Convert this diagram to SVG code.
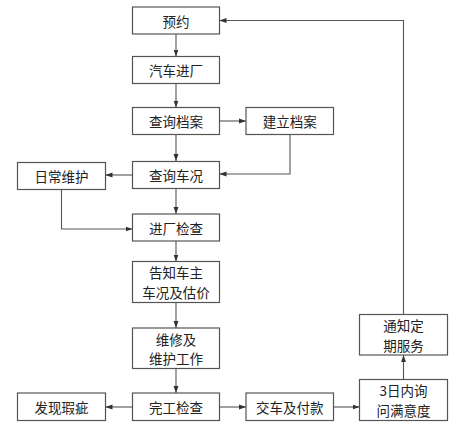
<svg xmlns="http://www.w3.org/2000/svg" width="461" height="433" viewBox="0 0 461 433">
<defs>
<style>
.box{fill:#fff;stroke:#555;stroke-width:1.2}
.t{font-family:"Noto Sans CJK SC","Liberation Serif",sans-serif;font-size:13.5px;fill:#222;text-anchor:middle;dominant-baseline:central}
.c{fill:none;stroke:#555;stroke-width:1.1}
</style>
<marker id="a" viewBox="0 0 10 10" refX="10" refY="5" markerWidth="7" markerHeight="7" markerUnits="userSpaceOnUse" orient="auto"><path d="M0,1.5 L10,5 L0,8.5 Z" fill="#333"/></marker>
</defs>
<rect width="461" height="433" fill="#fff"/>
<g id="connectors">
<path class="c" d="M176,34 V56.5" marker-end="url(#a)"/>
<path class="c" d="M176,83.5 V107.5" marker-end="url(#a)"/>
<path class="c" d="M219.5,121 H246" marker-end="url(#a)"/>
<path class="c" d="M176,134.5 V161" marker-end="url(#a)"/>
<path class="c" d="M290,134.5 V174 H219.5" marker-end="url(#a)"/>
<path class="c" d="M132.5,175 H105.5" marker-end="url(#a)"/>
<path class="c" d="M176,188.5 V214" marker-end="url(#a)"/>
<path class="c" d="M61.5,189.5 V229 H132.5" marker-end="url(#a)"/>
<path class="c" d="M176,241 V261.5" marker-end="url(#a)"/>
<path class="c" d="M176,302.5 V328" marker-end="url(#a)"/>
<path class="c" d="M176,368.5 V393" marker-end="url(#a)"/>
<path class="c" d="M132.5,407 H105.5" marker-end="url(#a)"/>
<path class="c" d="M219.5,407 H246" marker-end="url(#a)"/>
<path class="c" d="M333.5,407 H359.5" marker-end="url(#a)"/>
<path class="c" d="M403.5,379.5 V355" marker-end="url(#a)"/>
<path class="c" d="M403.5,314.5 V20.5 H219.5" marker-end="url(#a)"/>
</g>
<g id="n1"><rect class="box" x="132.5" y="7" width="87" height="27"/><text class="t" x="176" y="20.5">预约</text></g>
<g id="n2"><rect class="box" x="132.5" y="56.5" width="87" height="27"/><text class="t" x="176" y="70">汽车进厂</text></g>
<g id="n3"><rect class="box" x="132.5" y="107.5" width="87" height="27"/><text class="t" x="176" y="121">查询档案</text></g>
<g id="n4"><rect class="box" x="246" y="107.5" width="87.5" height="27"/><text class="t" x="289.7" y="121">建立档案</text></g>
<g id="n5"><rect class="box" x="132.5" y="161.5" width="87" height="27"/><text class="t" x="176" y="175">查询车况</text></g>
<g id="n6"><rect class="box" x="17.5" y="162.5" width="88" height="27"/><text class="t" x="61.5" y="176">日常维护</text></g>
<g id="n7"><rect class="box" x="132.5" y="214" width="87" height="27"/><text class="t" x="176" y="227.5">进厂检查</text></g>
<g id="n8"><rect class="box" x="132.5" y="261.5" width="87" height="41"/><text class="t"><tspan x="176" y="272.2">告知车主</tspan><tspan x="176" y="291.8">车况及估价</tspan></text></g>
<g id="n9"><rect class="box" x="132.5" y="328" width="87" height="40.5"/><text class="t"><tspan x="176" y="338.5">维修及</tspan><tspan x="176" y="358.1">维护工作</tspan></text></g>
<g id="n10"><rect class="box" x="132.5" y="393" width="87" height="27.5"/><text class="t" x="176" y="406.5">完工检查</text></g>
<g id="n11"><rect class="box" x="17.5" y="393" width="88" height="27.5"/><text class="t" x="61.5" y="406.5">发现瑕疵</text></g>
<g id="n12"><rect class="box" x="246" y="393" width="87.5" height="27.5"/><text class="t" x="289.7" y="406.5">交车及付款</text></g>
<g id="n13"><rect class="box" x="359.5" y="379.5" width="88" height="41"/><text class="t"><tspan x="403.5" y="390.2">3日内询</tspan><tspan x="403.5" y="409.8">问满意度</tspan></text></g>
<g id="n14"><rect class="box" x="359.5" y="314.5" width="88" height="40.5"/><text class="t"><tspan x="403.5" y="325">通知定</tspan><tspan x="403.5" y="344.6">期服务</tspan></text></g>
</svg>
